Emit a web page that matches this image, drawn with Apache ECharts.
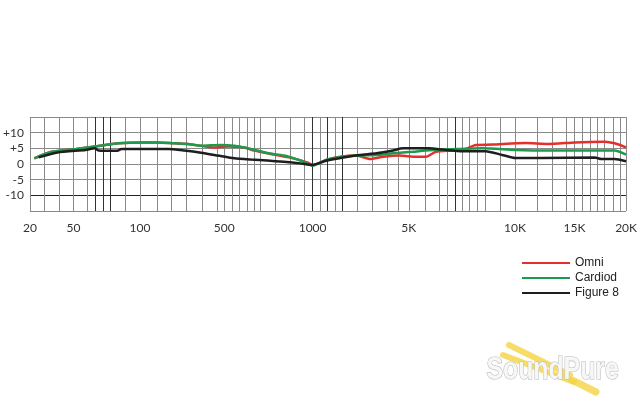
<!DOCTYPE html>
<html>
<head>
<meta charset="utf-8">
<script src="https://cdn.jsdelivr.net/npm/echarts@6/dist/echarts.min.js"></script>
<style>
  html, body { margin: 0; padding: 0; background: #fff; }
  #chart { width: 640px; height: 420px; }
</style>
</head>
<body>
<div id="chart"></div>
<script>
// frequency response, [Hz, dB]
const omni = [
  [23, 1.8], [35, 3.9], [52, 4.8], [66, 5.6], [84, 6.6], [108, 6.9], [187, 6.9],
  [263, 6.6], [328, 6.4], [390, 5.8], [453, 5.3], [519, 5.6], [612, 5.3], [669, 4.3],
  [781, 3.0], [893, 1.8], [969, 0.5], [1000, -0.3], [1594, 1.4], [2142, 2.3],
  [2831, 2.7], [3380, 1.6], [3928, 2.3], [4617, 2.7], [5346, 2.3], [5813, 2.3],
  [6280, 3.9], [7056, 4.3], [7682, 4.8], [8150, 6.1], [8925, 6.2], [10867, 6.7],
  [12808, 6.4], [15030, 6.9], [17923, 7.1], [18885, 6.6], [20000, 5.3]
]
const cardiod = [
  [23, 1.8], [35, 3.9], [52, 4.8], [66, 5.6], [84, 6.6], [108, 6.9], [187, 6.9],
  [263, 6.6], [328, 6.4], [390, 5.8], [484, 6.1], [556, 5.8], [650, 4.8], [744, 3.5],
  [837, 2.7], [931, 1.1], [1000, -0.5], [1594, 1.4], [2266, 2.3], [2831, 2.7],
  [3656, 2.9], [4340, 3.4], [5187, 3.9], [5967, 4.4], [7369, 4.8], [8458, 5.0],
  [10033, 4.5], [12808, 4.3], [18885, 4.3], [20000, 3.0]
]
const figure8 = [
  [26, 2.1], [39, 3.7], [59, 4.5], [66, 5.0], [69, 4.3], [83, 4.2], [86, 4.8],
  [234, 4.8], [310, 4.3], [390, 3.6], [469, 2.7], [556, 1.8], [650, 1.4], [744, 1.1],
  [837, 0.7], [931, 0.2], [1000, -0.3], [1594, 1.1], [2278, 2.1], [2967, 2.9],
  [3656, 3.4], [4340, 4.3], [4753, 5.0], [5967, 5.0], [6589, 4.6], [7523, 4.1],
  [8617, 4.1], [9393, 2.9], [10033, 1.9], [12250, 1.9], [16962, 2.1], [17597, 1.6],
  [18885, 1.6], [20000, 0.9]
]
const seriesNames = ['Omni', 'Cardiod', 'Figure 8']
const tickHz = [20, 50, 100, 500, 1000, 5000, 10000, 15000, 20000]
const tickLabels = ['20', '50', '100', '500', '1000', '5K', '10K', '15K', '20K']
const gridHz = [
  20, 30, 40, 50, 60, 66, 72, 78, 89, 100, 180, 250, 320, 395, 465, 500, 543, 584,
  628, 669, 706, 791, 876, 955, 1000, 1318, 1619, 1936, 2237, 2856, 3474, 4093, 4575,
  5000, 5780, 6435, 6794, 7168, 7523, 7836, 8224, 8584, 9318, 10000, 11892, 13142,
  14333, 15000, 15769, 16481, 17212, 17923, 18721, 19462, 20000
]
const darkGridHz = [66, 72, 78, 1000, 1619, 2237, 7168]

// the paper's frequency scale is stretched per segment, not a true log
const scaleHz = [20, 50, 100, 500, 1000, 5000, 10000, 15000, 20000]
const scalePos = [0, 44, 111, 196, 285, 382, 489, 549, 601]
function toAxis(f) {
  for (let i = 1; i < scaleHz.length; i++) {
    if (f <= scaleHz[i]) {
      const t = (f - scaleHz[i - 1]) / (scaleHz[i] - scaleHz[i - 1])
      return scalePos[i - 1] + t * (scalePos[i] - scalePos[i - 1])
    }
  }
  return scalePos[scalePos.length - 1]
}

const chart = echarts.init(document.getElementById('chart'))
const font = 'Lato, "Open Sans", sans-serif'
const tickPos = tickHz.map(toAxis)
const yellow = '#f4d443'

const option = {
  animation: false,
  grid: { left: 27, right: 12, top: 117, height: 94 },
  xAxis: {
    type: 'value',
    min: 0,
    max: scalePos[scalePos.length - 1],
    axisLine: { show: false },
    axisTick: { show: false, customValues: gridHz.map(toAxis) },
    axisLabel: {
      customValues: tickPos,
      margin: 11,
      color: '#333',
      fontSize: 12,
      fontFamily: font,
      formatter: v => {
        const i = tickPos.findIndex(p => Math.abs(p - v) < 0.01)
        return i >= 0 ? tickLabels[i] : ''
      }
    },
    splitLine: {
      show: true,
      lineStyle: {
        width: 1,
        color: gridHz.map(f => darkGridHz.includes(f) ? '#333' : '#8a8a8a')
      }
    }
  },
  yAxis: {
    type: 'value',
    min: -15,
    max: 15,
    interval: 5,
    axisLine: { show: false },
    axisTick: { show: false },
    axisLabel: {
      margin: 6,
      color: '#333',
      fontSize: 12,
      fontFamily: font,
      formatter: v => (Math.abs(v) === 15 ? '' : v > 0 ? '+' + v : '' + v)
    },
    splitLine: {
      lineStyle: {
        width: 1,
        color: ['#8a8a8a', '#222', '#8a8a8a', '#8a8a8a', '#8a8a8a', '#8a8a8a', '#8a8a8a']
      }
    }
  },
  legend: {
    orient: 'vertical',
    left: 517,
    top: 252,
    icon: 'rect',
    itemWidth: 48,
    itemHeight: 2,
    itemGap: 3,
    textStyle: { fontSize: 12, color: '#222', fontFamily: 'Liberation Sans, Arial, sans-serif' },
    data: seriesNames
  },
  color: ['#e3302c', '#1f9a4c', '#1e1e1e'],
  series: [omni, cardiod, figure8].map((d, i) => ({
    name: seriesNames[i],
    type: 'line',
    symbol: 'none',
    smooth: 0.2,
    lineStyle: { width: 2.5 },
    data: d.map(([f, db]) => [toAxis(f), db])
  })),
  // watermark: yellow tuning fork behind the logo text
  graphic: [
    { type: 'line', z: 1, silent: true, shape: { x1: 509, y1: 345, x2: 570, y2: 375 }, style: { stroke: yellow, lineWidth: 6, lineCap: 'round', opacity: 0.8 } },
    { type: 'line', z: 1, silent: true, shape: { x1: 503, y1: 355, x2: 574, y2: 382 }, style: { stroke: yellow, lineWidth: 6, lineCap: 'round', opacity: 0.8 } },
    { type: 'line', z: 1, silent: true, shape: { x1: 572, y1: 380, x2: 596, y2: 392 }, style: { stroke: yellow, lineWidth: 7, lineCap: 'round', opacity: 0.8 } },
    {
      type: 'text',
      left: 486,
      top: 354,
      scaleX: 0.8,
      silent: true,
      z: 50,
      style: {
        text: 'SoundPure',
        fill: '#f7f7f7',
        stroke: '#b8b8b8',
        lineWidth: 1.2,
        font: 'bold 31px "Liberation Sans", Arial, sans-serif'
      }
    }
  ]
}
chart.setOption(option)
</script>
</body>
</html>
